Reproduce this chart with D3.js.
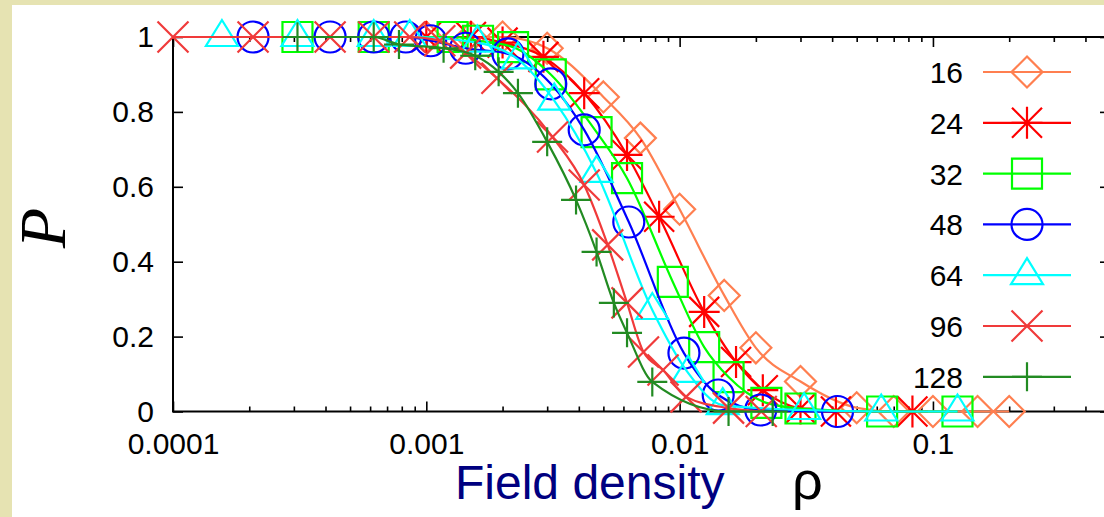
<!DOCTYPE html>
<html>
<head>
<meta charset="utf-8">
<script src="https://cdn.jsdelivr.net/npm/d3@7"></script>
<style>
  html, body { margin: 0; padding: 0; background: #e6e3b2; }
  svg { display: block; }
  text { font-family: "Liberation Sans", Arial, sans-serif; }
</style>
</head>
<body>
<svg id="chart" width="1104" height="517"></svg>
<script>
// Probability P versus field density rho for several system sizes N
const sizes = ["16", "24", "32", "48", "64", "96", "128"];

const rho16 = [0.001, 0.0015, 0.002, 0.003, 0.005, 0.007, 0.01, 0.015, 0.02, 0.03, 0.05, 0.07, 0.1, 0.15, 0.2];
const p16   = [1, 1, 1, 0.97, 0.84, 0.73, 0.54, 0.31, 0.17, 0.08, 0.01, 0, 0, 0, 0];

const rho24 = [0.001, 0.0015, 0.002, 0.0029, 0.0042, 0.0062, 0.0083, 0.0125, 0.0167, 0.0213, 0.03, 0.0414, 0.083];
const p24   = [1, 1, 0.985, 0.947, 0.85, 0.685, 0.52, 0.266, 0.132, 0.057, 0.008, 0, 0];

const rho32 = [0.00031, 0.00062, 0.00127, 0.0016, 0.0022, 0.0031, 0.0047, 0.0062, 0.0094, 0.0125, 0.0156, 0.022, 0.030, 0.063, 0.125];
const p32   = [1, 1, 1, 0.99, 0.973, 0.90, 0.746, 0.623, 0.346, 0.172, 0.092, 0.023, 0.008, 0, 0];

const rho48 = [0.000207, 0.000417, 0.00062, 0.00083, 0.00104, 0.00143, 0.0021, 0.0031, 0.0042, 0.0063, 0.0104, 0.0142, 0.0209, 0.042];
const p48   = [1, 1, 1, 1, 0.99, 0.97, 0.955, 0.875, 0.752, 0.506, 0.156, 0.044, 0.004, 0];

const rho64 = [0.000156, 0.00031, 0.00062, 0.00086, 0.00159, 0.0023, 0.0032, 0.0047, 0.0078, 0.0108, 0.0148, 0.031, 0.0625, 0.125];
const p64   = [1, 1, 1, 1, 0.985, 0.94, 0.83, 0.637, 0.271, 0.103, 0.017, 0.004, 0, 0];

const rho96 = [0.0001, 0.000207, 0.000417, 0.00062, 0.00086, 0.00113, 0.00143, 0.0019, 0.00315, 0.0042, 0.0052, 0.0062, 0.0072, 0.0086, 0.0106, 0.0156, 0.021];
const p96   = [1, 1, 1, 1, 1, 0.99, 0.957, 0.89, 0.733, 0.605, 0.445, 0.29, 0.159, 0.111, 0.039, 0.009, 0];

const rho128 = [0.00031, 0.00062, 0.00078, 0.00117, 0.00156, 0.00193, 0.0023, 0.0030, 0.0039, 0.0047, 0.0055, 0.0062, 0.0078, 0.0156, 0.0233];
const p128   = [1, 1, 0.98, 0.97, 0.95, 0.907, 0.85, 0.72, 0.565, 0.426, 0.29, 0.21, 0.079, 0, 0];

const xMajorTicks = [0.0001, 0.001, 0.01, 0.1];
const xTickLabels = ["0.0001", "0.001", "0.01", "0.1"];
const yTicks = [0, 0.2, 0.4, 0.6, 0.8, 1];
const yTickLabels = ["0", "0.2", "0.4", "0.6", "0.8", "1"];

const colors = ["#ff7f50", "#ff0000", "#00ff00", "#0000ff", "#00ffff", "#f03a3a", "#228b22"];
const markerKinds = ["diamond", "star", "square", "circle", "triangle", "cross", "plus"];

const seriesRho = [rho16, rho24, rho32, rho48, rho64, rho96, rho128];
const seriesP = [p16, p24, p32, p48, p64, p96, p128];

const series = sizes.map((name, i) => ({
  name,
  color: colors[i],
  kind: markerKinds[i],
  points: seriesRho[i].map((r, j) => ({ rho: r, p: seriesP[i][j] }))
}));

// ---- layout ----
const W = 1104, H = 517;
const plot = { left: 173, right: 1110, top: 37, bottom: 411.5 };

const svg = d3.select("#chart");

// white sheet over the tinted page
svg.append("rect").attr("x", 0).attr("y", 0).attr("width", W).attr("height", H).attr("fill", "#e6e3b2");
svg.append("rect").attr("x", 12).attr("y", 5).attr("width", W - 12).attr("height", H - 5).attr("fill", "#ffffff");

const x = d3.scaleLog().domain([1e-4, 0.5]).range([plot.left, plot.right]);
const y = d3.scaleLinear().domain([0, 1]).range([plot.bottom, plot.top]);

// minor ticks on the log axis
const xMinor = [];
for (let e = -4; e <= -1; e++) {
  for (let k = 2; k <= 9; k++) {
    const v = k * Math.pow(10, e);
    if (v <= 0.5) xMinor.push(v);
  }
}

const tickFont = 30;

function styleAxis(g) {
  g.select(".domain").remove();
  g.selectAll(".tick line").attr("stroke", "#000").attr("stroke-width", 1.6);
  g.selectAll(".tick text")
    .attr("fill", "#000")
    .style("font-size", tickFont + "px")
    .style("font-family", "'Liberation Sans', Arial, sans-serif");
}

// bottom axis
svg.append("g")
  .attr("transform", `translate(0,${plot.bottom})`)
  .call(d3.axisBottom(x).tickValues(xMajorTicks).tickFormat((d, i) => xTickLabels[i]).tickSizeInner(-10).tickSizeOuter(0).tickPadding(21))
  .call(styleAxis);
svg.append("g")
  .attr("transform", `translate(0,${plot.bottom})`)
  .call(d3.axisBottom(x).tickValues(xMinor).tickFormat("").tickSizeInner(-5).tickSizeOuter(0))
  .call(styleAxis);

// top axis (mirror ticks)
svg.append("g")
  .attr("transform", `translate(0,${plot.top})`)
  .call(d3.axisTop(x).tickValues(xMajorTicks).tickFormat("").tickSizeInner(-10).tickSizeOuter(0))
  .call(styleAxis);
svg.append("g")
  .attr("transform", `translate(0,${plot.top})`)
  .call(d3.axisTop(x).tickValues(xMinor).tickFormat("").tickSizeInner(-5).tickSizeOuter(0))
  .call(styleAxis);

// left axis
svg.append("g")
  .attr("transform", `translate(${plot.left},0)`)
  .call(d3.axisLeft(y).tickValues(yTicks).tickFormat((d, i) => yTickLabels[i]).tickSizeInner(-10).tickSizeOuter(0).tickPadding(19))
  .call(styleAxis);

// right axis (mirror ticks)
svg.append("g")
  .attr("transform", `translate(${plot.right},0)`)
  .call(d3.axisRight(y).tickValues(yTicks).tickFormat("").tickSizeInner(-10).tickSizeOuter(0))
  .call(styleAxis);

// frame
svg.append("rect")
  .attr("x", plot.left).attr("y", plot.top)
  .attr("width", plot.right - plot.left).attr("height", plot.bottom - plot.top)
  .attr("fill", "none").attr("stroke", "#000").attr("stroke-width", 2);

// ---- marker shapes ----
function markerPath(kind) {
  switch (kind) {
    case "diamond": return "M0,-15.5L15.5,0L0,15.5L-15.5,0Z";
    case "star": return "M0,-16V16M-15.5,0H15.5M-15,-15L15,15M-15,15L15,-15";
    case "square": return "M-15,-15H15V15H-15Z";
    case "circle": return "M15.5,0A15.5,15.5 0 1,1 -15.5,0A15.5,15.5 0 1,1 15.5,0Z";
    case "triangle": return "M0,-17L16,9H-16Z";
    case "cross": return "M-15.5,-15.5L15.5,15.5M-15.5,15.5L15.5,-15.5";
    case "plus": return "M0,-14.5V14.5M-15,0H15";
  }
}

const line = d3.line()
  .x(d => x(d.rho))
  .y(d => y(d.p))
  .curve(d3.curveMonotoneX);

// ---- series ----
series.forEach(s => {
  const g = svg.append("g").attr("class", "series");
  g.append("path")
    .datum(s.points)
    .attr("d", line)
    .attr("fill", "none")
    .attr("stroke", s.color)
    .attr("stroke-width", 2.2)
    .attr("stroke-linejoin", "round");
  g.selectAll("path.marker")
    .data(s.points)
    .join("path")
    .attr("class", "marker")
    .attr("d", markerPath(s.kind))
    .attr("transform", d => `translate(${x(d.rho)},${y(d.p)})`)
    .attr("fill", "none")
    .attr("stroke", s.color)
    .attr("stroke-width", 2.2);
});

// ---- legend ----
const legend = { labelX: 963, lineX1: 983, lineX2: 1071, markX: 1027, top: 72, step: 50.8 };
series.forEach((s, i) => {
  const ly = legend.top + i * legend.step;
  const g = svg.append("g");
  g.append("text")
    .attr("x", legend.labelX).attr("y", ly + 11)
    .attr("text-anchor", "end")
    .style("font-size", "30px")
    .attr("fill", "#000")
    .text(s.name);
  g.append("line")
    .attr("x1", legend.lineX1).attr("x2", legend.lineX2)
    .attr("y1", ly).attr("y2", ly)
    .attr("stroke", s.color).attr("stroke-width", 2.2);
  g.append("path")
    .attr("d", markerPath(s.kind))
    .attr("transform", `translate(${legend.markX},${ly})`)
    .attr("fill", "none").attr("stroke", s.color).attr("stroke-width", 2.2);
});

// ---- axis titles ----
svg.append("text")
  .attr("x", 455).attr("y", 499)
  .style("font-size", "48px")
  .attr("fill", "#000080")
  .text("Field density");
svg.append("text")
  .attr("x", 792).attr("y", 499)
  .style("font-size", "54px")
  .attr("fill", "#000")
  .text("ρ");

svg.append("text")
  .attr("transform", "translate(65,228) rotate(-90)")
  .attr("text-anchor", "middle")
  .style("font-family", "'Liberation Serif', 'Times New Roman', serif")
  .style("font-style", "italic")
  .style("font-size", "66px")
  .attr("fill", "#000")
  .text("P");
</script>
</body>
</html>
